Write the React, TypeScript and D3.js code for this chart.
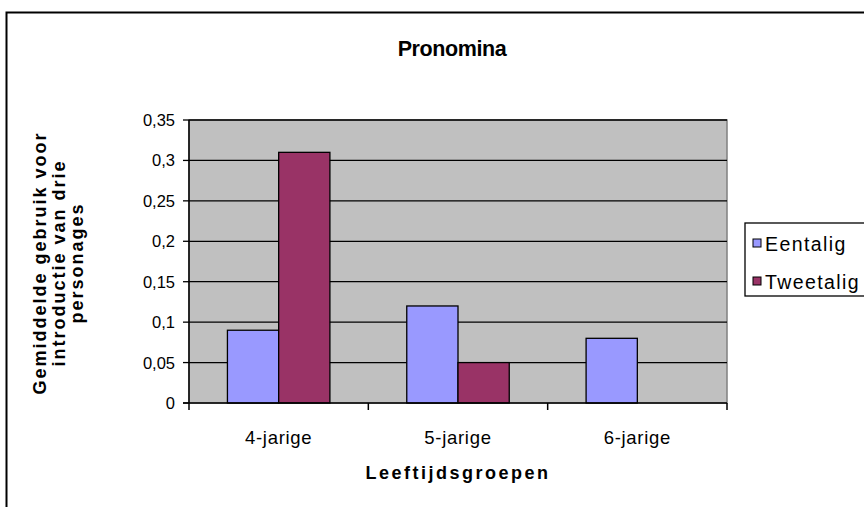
import React from 'react';
import * as d3 from 'd3';

const categories = ['4-jarige', '5-jarige', '6-jarige'];
const seriesNames = ['Eentalig', 'Tweetalig'];
const eentalig = [0.09, 0.12, 0.08];
const tweetalig = [0.31, 0.05, 0];
const yTicks = [0, 0.05, 0.1, 0.15, 0.2, 0.25, 0.3, 0.35];
const yTickLabels = ['0', '0,05', '0,1', '0,15', '0,2', '0,25', '0,3', '0,35'];
const colors = ['#9999FF', '#993366'];
const title = 'Pronomina';
const xTitle = 'Leeftijdsgroepen';
const yTitleLines = ['Gemiddelde gebruik voor', 'introductie van drie', 'personages'];

const FONT = 'Arial, "Liberation Sans", sans-serif';

export default function App() {
  const W = 864, H = 507;
  const left = 189, right = 727, top = 120, bottom = 403;
  const x = d3.scaleBand<string>().domain(categories).range([left, right]).padding(0);
  const xs = d3.scaleBand<string>().domain(seriesNames).range([0, x.bandwidth()]).paddingInner(0).paddingOuter(0.75);
  const y = d3.scaleLinear().domain([0, 0.35]).range([bottom, top]);
  const seriesValues = [eentalig, tweetalig];
  const boundaries = [...categories.map((c) => x(c) as number), right];
  const yTitleCx = 58, yTitleCy = 263;

  return (
    <svg width={W} height={H} style={{ position: 'absolute', left: 0, top: 0, display: 'block' }} fontFamily={FONT}>
      <rect x={0} y={0} width={W} height={H} fill="#fff" />
      <rect x={6.5} y={12.5} width={900} height={600} fill="#fff" stroke="#000" strokeWidth={2} />
      <text x={452} y={56} textAnchor="middle" fontSize={21.5} fontWeight="bold" letterSpacing={-0.4}>{title}</text>

      <rect x={left} y={top} width={right - left} height={bottom - top} fill="#C0C0C0" stroke="#808080" strokeWidth={1.5} />
      {yTicks.slice(1).map((t) => (
        <line key={t} x1={left} x2={right} y1={y(t)} y2={y(t)} stroke="#000" strokeWidth={1.3} />
      ))}
      {seriesValues.map((vals, si) =>
        vals.map((v, ci) => v > 0 ? (
          <rect key={`${si}-${ci}`} x={(x(categories[ci]) as number) + (xs(seriesNames[si]) as number)} y={y(v)}
            width={xs.bandwidth()} height={y(0) - y(v)} fill={colors[si]} stroke="#000" strokeWidth={1.3} />
        ) : null)
      )}
      <line x1={left} x2={left} y1={top} y2={bottom} stroke="#000" strokeWidth={1.5} />
      <line x1={left - 6} x2={right} y1={bottom} y2={bottom} stroke="#000" strokeWidth={1.5} />
      {yTicks.map((t, i) => (
        <g key={t}>
          <line x1={left - 6} x2={left} y1={y(t)} y2={y(t)} stroke="#000" strokeWidth={1.3} />
          <text x={175} y={y(t)} dy="0.36em" textAnchor="end" fontSize={16.5}>{yTickLabels[i]}</text>
        </g>
      ))}
      {boundaries.map((b, i) => (
        <line key={i} x1={b} x2={b} y1={bottom} y2={bottom + 7} stroke="#000" strokeWidth={1.5} />
      ))}
      {categories.map((c) => (
        <text key={c} x={(x(c) as number) + x.bandwidth() / 2} y={444} textAnchor="middle" fontSize={18.5} letterSpacing={0.7}>{c}</text>
      ))}
      <text x={458} y={479} textAnchor="middle" fontSize={18} fontWeight="bold" letterSpacing={2.5}>{xTitle}</text>
      <g transform={`translate(${yTitleCx},${yTitleCy}) rotate(-90)`}>
        {yTitleLines.map((l, i) => (
          <text key={l} x={0} y={(i - 1) * 18.5 + 6.5} textAnchor="middle" fontSize={18} fontWeight="bold" letterSpacing={2}>{l}</text>
        ))}
      </g>

      <rect x={745} y={223} width={140} height={73} fill="#fff" stroke="#000" strokeWidth={1.3} />
      {seriesNames.map((s, i) => (
        <g key={s}>
          <rect x={753} y={239 + i * 38} width={8} height={8} fill={colors[i]} stroke="#000" strokeWidth={1} />
          <text x={765} y={250.5 + i * 38} fontSize={19.5} letterSpacing={1.4}>{s}</text>
        </g>
      ))}
    </svg>
  );
}
